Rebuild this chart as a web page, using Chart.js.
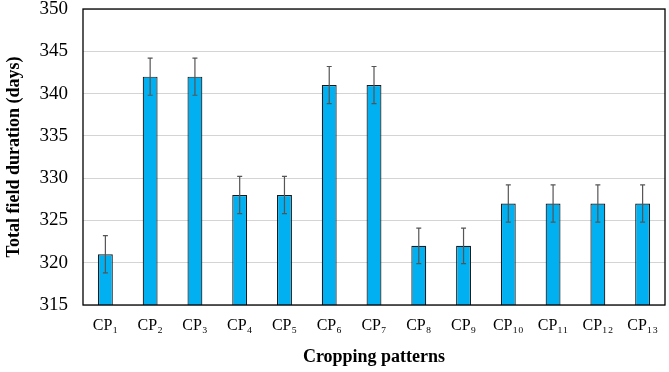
<!DOCTYPE html>
<html><head><meta charset="utf-8">
<script src="https://cdn.jsdelivr.net/npm/chart.js@4/dist/chart.umd.min.js"></script>
<style>html,body{margin:0;padding:0;background:#fff}#wrap{width:669px;height:372px}</style>
</head><body><div id="wrap"><canvas id="c" width="669" height="372"></canvas></div>
<script>
const categories = ['CP₁','CP₂','CP₃','CP₄','CP₅','CP₆','CP₇','CP₈','CP₉','CP₁₀','CP₁₁','CP₁₂','CP₁₃'];
const durations = [321, 342, 342, 328, 328, 341, 341, 322, 322, 327, 327, 327, 327];
const errors = [2.2, 2.2, 2.2, 2.2, 2.2, 2.2, 2.2, 2.1, 2.1, 2.2, 2.2, 2.2, 2.2];
const yTicks = [315, 320, 325, 330, 335, 340, 345, 350];

const errorBars = {
  id: 'errorBars',
  afterDatasetsDraw(chart) {
    const ctx = chart.ctx, y = chart.scales.y;
    const meta = chart.getDatasetMeta(0);
    ctx.save();
    ctx.strokeStyle = '#555';
    ctx.lineWidth = 1.2;
    meta.data.forEach((bar, i) => {
      const x = bar.x;
      const top = y.getPixelForValue(durations[i] + errors[i]);
      const bot = y.getPixelForValue(durations[i] - errors[i]);
      ctx.beginPath();
      ctx.moveTo(x, top); ctx.lineTo(x, bot);
      ctx.moveTo(x - 2.5, top); ctx.lineTo(x + 2.5, top);
      ctx.moveTo(x - 2.5, bot); ctx.lineTo(x + 2.5, bot);
      ctx.stroke();
    });
    ctx.restore();
  }
};
const frame = {
  id: 'frame',
  afterDraw(chart) {
    const a = chart.chartArea, ctx = chart.ctx;
    ctx.save();
    ctx.strokeStyle = '#000';
    ctx.lineWidth = 1.3;
    ctx.strokeRect(a.left, a.top, a.right - a.left, a.bottom - a.top);
    ctx.restore();
  }
};

new Chart(document.getElementById('c'), {
  type: 'bar',
  data: {
    labels: categories,
    datasets: [{
      data: durations,
      backgroundColor: '#00b0f0',
      borderColor: '#1a1a1a',
      borderWidth: 1.2,
      barPercentage: 0.95,
      categoryPercentage: 0.35
    }]
  },
  options: {
    responsive: false,
    animation: false,
    layout: { padding: { top: 9, right: 4, left: 0, bottom: 0 } },
    plugins: { legend: { display: false }, tooltip: { enabled: false } },
    scales: {
      x: {
        grid: { display: false },
        border: { display: false },
        ticks: { color: '#000', font: { family: 'Liberation Serif', size: 16 }, maxRotation: 0, autoSkip: false, padding: 3 },
        title: { display: true, text: 'Cropping patterns', color: '#000', font: { family: 'Liberation Serif', size: 18, weight: 'bold' }, padding: { top: 16 } },
        afterFit(s) { s.height = 67; }
      },
      y: {
        min: 315, max: 350,
        afterBuildTicks(s) { s.ticks = yTicks.map(v => ({ value: v })); },
        grid: { color: '#d4d4d4', lineWidth: 1, drawTicks: false },
        border: { display: false },
        ticks: { color: '#000', font: { family: 'Liberation Serif', size: 19 }, padding: 15 },
        title: { display: true, text: 'Total field duration (days)', color: '#000', font: { family: 'Liberation Serif', size: 18, weight: 'bold' }, padding: { bottom: 4 } },
        afterFit(s) { s.width = 83; s.paddingTop = 0; s.paddingBottom = 0; }
      }
    }
  },
  plugins: [errorBars, frame]
});
</script></body></html>
